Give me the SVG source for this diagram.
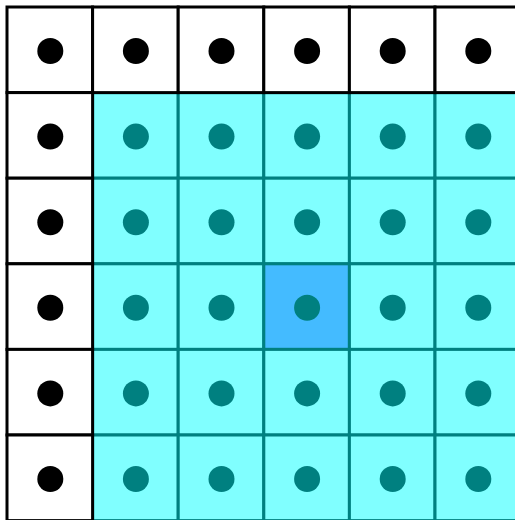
<svg xmlns="http://www.w3.org/2000/svg" width="515" height="520" viewBox="0 0 515 520">
<style>
.w rect{fill:#ffffff;stroke:#000000;stroke-width:3}
.w circle{fill:#000000}
.c rect{fill:#80ffff;stroke:#008080;stroke-width:3}
.c circle{fill:#008080}
.h rect{fill:#44bbff;stroke:#008080;stroke-width:3}
.h circle{fill:#008080}
</style>
<rect width="515" height="520" fill="#ffffff"/>
<g id="cyan-cells">
<g id="r1c1" class="c"><rect x="92.6" y="92.6" width="85.6" height="85.6"/><circle cx="135.9" cy="136.6" r="13"/></g>
<g id="r1c2" class="c"><rect x="178.2" y="92.6" width="85.6" height="85.6"/><circle cx="221.5" cy="136.6" r="13"/></g>
<g id="r1c3" class="c"><rect x="263.8" y="92.6" width="85.6" height="85.6"/><circle cx="307.1" cy="136.6" r="13"/></g>
<g id="r1c4" class="c"><rect x="349.4" y="92.6" width="85.6" height="85.6"/><circle cx="392.7" cy="136.6" r="13"/></g>
<g id="r1c5" class="c"><rect x="435" y="92.6" width="85.6" height="85.6"/><circle cx="478.3" cy="136.6" r="13"/></g>
<g id="r2c1" class="c"><rect x="92.6" y="178.2" width="85.6" height="85.6"/><circle cx="135.9" cy="222.2" r="13"/></g>
<g id="r2c2" class="c"><rect x="178.2" y="178.2" width="85.6" height="85.6"/><circle cx="221.5" cy="222.2" r="13"/></g>
<g id="r2c3" class="c"><rect x="263.8" y="178.2" width="85.6" height="85.6"/><circle cx="307.1" cy="222.2" r="13"/></g>
<g id="r2c4" class="c"><rect x="349.4" y="178.2" width="85.6" height="85.6"/><circle cx="392.7" cy="222.2" r="13"/></g>
<g id="r2c5" class="c"><rect x="435" y="178.2" width="85.6" height="85.6"/><circle cx="478.3" cy="222.2" r="13"/></g>
<g id="r3c1" class="c"><rect x="92.6" y="263.8" width="85.6" height="85.6"/><circle cx="135.9" cy="307.8" r="13"/></g>
<g id="r3c2" class="c"><rect x="178.2" y="263.8" width="85.6" height="85.6"/><circle cx="221.5" cy="307.8" r="13"/></g>
<g id="r3c3" class="h"><rect x="263.8" y="263.8" width="85.6" height="85.6"/><circle cx="307.1" cy="307.8" r="13"/></g>
<g id="r3c4" class="c"><rect x="349.4" y="263.8" width="85.6" height="85.6"/><circle cx="392.7" cy="307.8" r="13"/></g>
<g id="r3c5" class="c"><rect x="435" y="263.8" width="85.6" height="85.6"/><circle cx="478.3" cy="307.8" r="13"/></g>
<g id="r4c1" class="c"><rect x="92.6" y="349.4" width="85.6" height="85.6"/><circle cx="135.9" cy="393.4" r="13"/></g>
<g id="r4c2" class="c"><rect x="178.2" y="349.4" width="85.6" height="85.6"/><circle cx="221.5" cy="393.4" r="13"/></g>
<g id="r4c3" class="c"><rect x="263.8" y="349.4" width="85.6" height="85.6"/><circle cx="307.1" cy="393.4" r="13"/></g>
<g id="r4c4" class="c"><rect x="349.4" y="349.4" width="85.6" height="85.6"/><circle cx="392.7" cy="393.4" r="13"/></g>
<g id="r4c5" class="c"><rect x="435" y="349.4" width="85.6" height="85.6"/><circle cx="478.3" cy="393.4" r="13"/></g>
<g id="r5c1" class="c"><rect x="92.6" y="435" width="85.6" height="85.6"/><circle cx="135.9" cy="479" r="13"/></g>
<g id="r5c2" class="c"><rect x="178.2" y="435" width="85.6" height="85.6"/><circle cx="221.5" cy="479" r="13"/></g>
<g id="r5c3" class="c"><rect x="263.8" y="435" width="85.6" height="85.6"/><circle cx="307.1" cy="479" r="13"/></g>
<g id="r5c4" class="c"><rect x="349.4" y="435" width="85.6" height="85.6"/><circle cx="392.7" cy="479" r="13"/></g>
<g id="r5c5" class="c"><rect x="435" y="435" width="85.6" height="85.6"/><circle cx="478.3" cy="479" r="13"/></g>
</g>
<g id="white-cells">
<g id="r0c0" class="w"><rect x="7" y="7" width="85.6" height="85.6"/><circle cx="50.3" cy="51" r="13"/></g>
<g id="r0c1" class="w"><rect x="92.6" y="7" width="85.6" height="85.6"/><circle cx="135.9" cy="51" r="13"/></g>
<g id="r0c2" class="w"><rect x="178.2" y="7" width="85.6" height="85.6"/><circle cx="221.5" cy="51" r="13"/></g>
<g id="r0c3" class="w"><rect x="263.8" y="7" width="85.6" height="85.6"/><circle cx="307.1" cy="51" r="13"/></g>
<g id="r0c4" class="w"><rect x="349.4" y="7" width="85.6" height="85.6"/><circle cx="392.7" cy="51" r="13"/></g>
<g id="r0c5" class="w"><rect x="435" y="7" width="85.6" height="85.6"/><circle cx="478.3" cy="51" r="13"/></g>
<g id="r1c0" class="w"><rect x="7" y="92.6" width="85.6" height="85.6"/><circle cx="50.3" cy="136.6" r="13"/></g>
<g id="r2c0" class="w"><rect x="7" y="178.2" width="85.6" height="85.6"/><circle cx="50.3" cy="222.2" r="13"/></g>
<g id="r3c0" class="w"><rect x="7" y="263.8" width="85.6" height="85.6"/><circle cx="50.3" cy="307.8" r="13"/></g>
<g id="r4c0" class="w"><rect x="7" y="349.4" width="85.6" height="85.6"/><circle cx="50.3" cy="393.4" r="13"/></g>
<g id="r5c0" class="w"><rect x="7" y="435" width="85.6" height="85.6"/><circle cx="50.3" cy="479" r="13"/></g>
</g>
<g id="connectors"/>
</svg>
